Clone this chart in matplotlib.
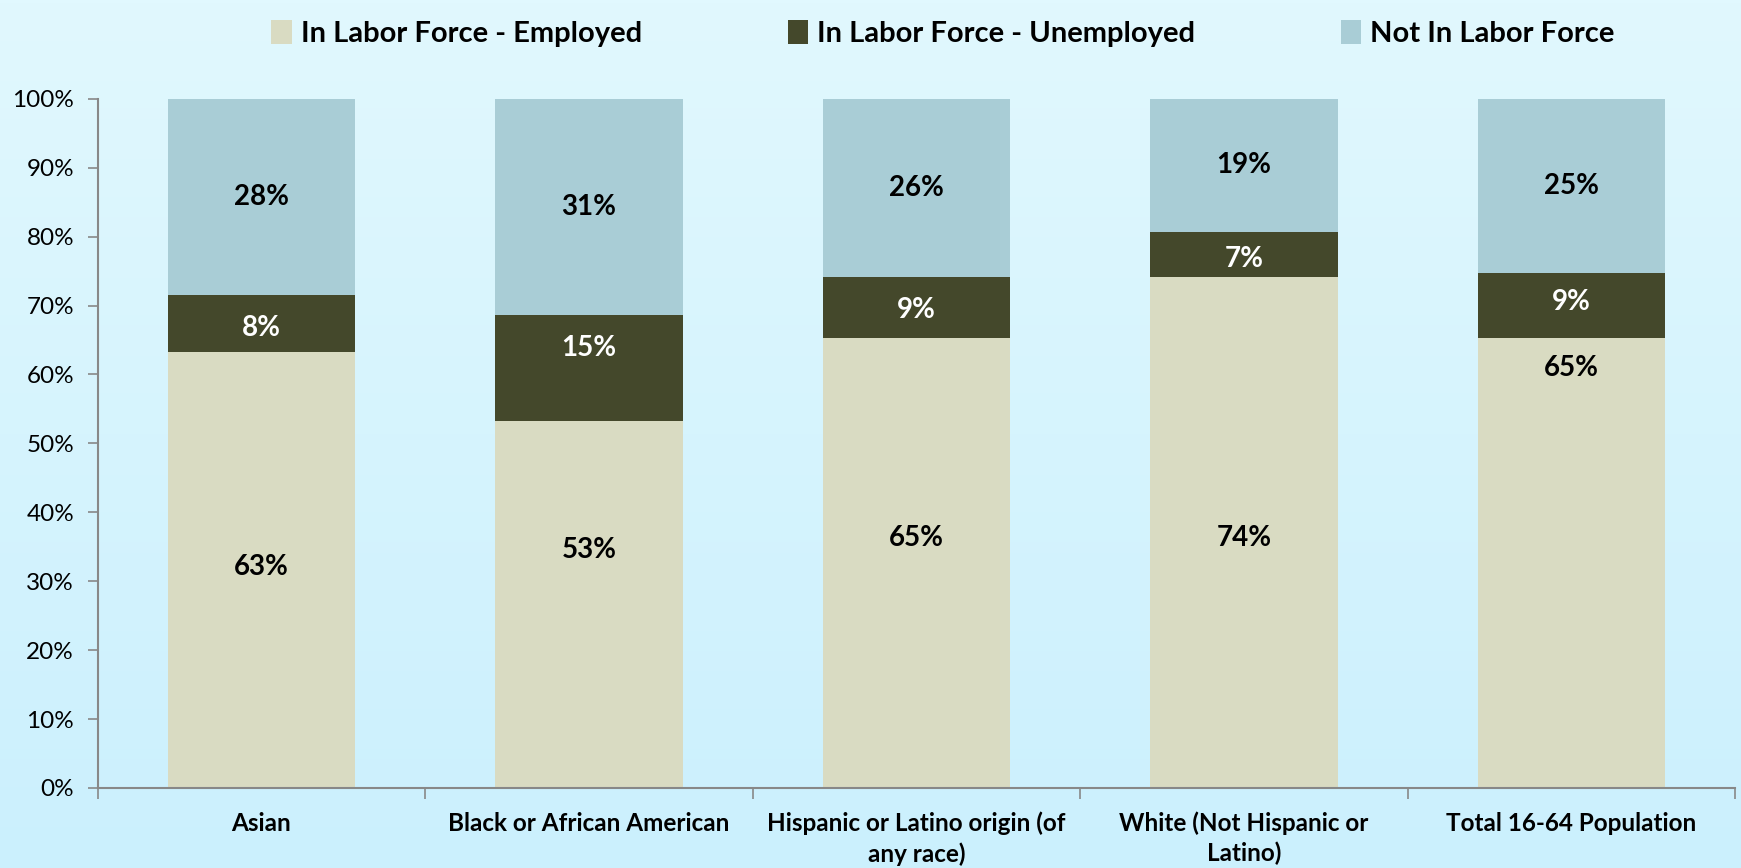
import numpy as np
import matplotlib.pyplot as plt

categories = ['Asian', 'Black or African American', 'Hispanic or Latino origin (of\nany race)',
              'White (Not Hispanic or\nLatino)', 'Total 16-64 Population']
employed = [63.2, 53.3, 65.3, 74.1, 65.3]
unemployed = [8.4, 15.3, 8.9, 6.6, 9.4]
not_in_lf = [28.4, 31.4, 25.8, 19.3, 25.3]
series_names = ['In Labor Force - Employed', 'In Labor Force - Unemployed', 'Not In Labor Force']
colors = ['#d9dbc2', '#44482b', '#a9cdd6']
label_colors = ['black', 'white', 'black']
# label heights as placed in the original (not always centred)
employed_label_y = [32.0, 34.5, 36.2, 36.2, 61.0]
unemployed_label_y = [66.8, 63.9, 69.4, 76.8, 70.5]

plt.rcParams['font.family'] = ['Lato', 'DejaVu Sans']

fig = plt.figure(figsize=(17.41, 8.68), dpi=100)

# background gradient
bg = fig.add_axes([0, 0, 1, 1], zorder=-10)
top = np.array([0xe1, 0xf8, 0xfe]) / 255
bot = np.array([0xcb, 0xf0, 0xfd]) / 255
t = np.linspace(0, 1, 256)[:, None]
grad = top[None, :] * (1 - t) + bot[None, :] * t
bg.imshow(grad[:, None, :], aspect='auto', extent=[0, 1, 0, 1])
bg.axis('off')

ax = fig.add_axes([0.0561, 0.0922, 0.9405, 0.794])
ax.patch.set_alpha(0)

x = np.arange(len(categories)) + 0.5
w = 0.573
bottoms = np.zeros(len(categories))
for k, (vals, name, c, lc) in enumerate(zip([employed, unemployed, not_in_lf], series_names, colors, label_colors)):
    vals = np.array(vals)
    ax.bar(x, vals, w, bottom=bottoms, color=c, label=name, zorder=2)
    if k == 0:
        ys = employed_label_y
    elif k == 1:
        ys = unemployed_label_y
    else:
        ys = bottoms + vals / 2
    for xi, yi, v in zip(x, ys, vals):
        ax.text(xi, yi, '%d%%' % round(v), ha='center', va='center',
                fontsize=20, fontweight='bold', color=lc, zorder=3)
    bottoms = bottoms + vals

ax.set_xlim(0, 5)
ax.set_ylim(0, 100)
ax.set_yticks(np.arange(0, 101, 10))
ax.set_yticklabels(['%d%%' % v for v in range(0, 101, 10)], fontsize=17.5)
ax.set_xticks(x)
ax.set_xticklabels(categories, fontsize=17.5, fontweight='bold', linespacing=1.35)
ax.tick_params(axis='x', which='major', length=0, pad=17)
ax.set_xticks(np.arange(0, 6), minor=True)
ax.tick_params(axis='x', which='minor', length=8, color='#888888', width=1.2)
ax.tick_params(axis='y', length=7, color='#888888', width=1.2, pad=10)
for s in ['top', 'right']:
    ax.spines[s].set_visible(False)
for s in ['left', 'bottom']:
    ax.spines[s].set_color('#888888')
    ax.spines[s].set_linewidth(1.5)

leg = fig.legend(loc='upper center', bbox_to_anchor=(0.5415, 1.007), ncol=3, frameon=False,
                 prop={'size': 21, 'weight': 'bold'}, handlelength=0.7, handleheight=0.9,
                 handletextpad=0.3, columnspacing=5.0)

fig.savefig('out.png', dpi=100)
